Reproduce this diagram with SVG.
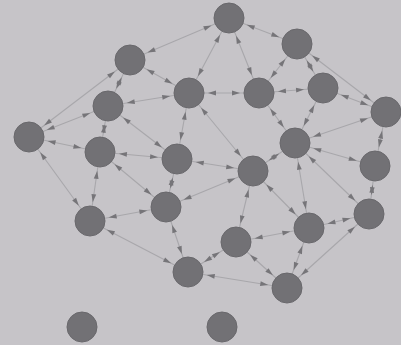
<svg xmlns="http://www.w3.org/2000/svg" width="401" height="345" viewBox="0 0 401 345">
<defs>
<style>
.bg{fill:#c6c4c8}
.e line{stroke:#a8a7ab;stroke-width:1.1;marker-start:url(#ah);marker-end:url(#ah)}
.n circle{fill:#727175;stroke:#69686c;stroke-width:1}
</style>
<marker id="ah" viewBox="-30 -5 30 10" refX="0" refY="0" markerWidth="30" markerHeight="10" markerUnits="userSpaceOnUse" orient="auto-start-reverse">
<path d="M-27,-2.4 L-19,0 L-27,2.4 z" fill="#767579"/>
</marker>
</defs>
<rect class="bg" x="0" y="0" width="401" height="345"/>
<g id="connectors" class="e">
<line x1="229" y1="18" x2="297" y2="44"/>
<line x1="229" y1="18" x2="130" y2="60"/>
<line x1="229" y1="18" x2="189" y2="93"/>
<line x1="229" y1="18" x2="259" y2="93"/>
<line x1="297" y1="44" x2="259" y2="93"/>
<line x1="297" y1="44" x2="323" y2="88"/>
<line x1="297" y1="44" x2="386" y2="112"/>
<line x1="130" y1="60" x2="108" y2="106"/>
<line x1="130" y1="60" x2="189" y2="93"/>
<line x1="130" y1="60" x2="29" y2="137"/>
<line x1="108" y1="106" x2="189" y2="93"/>
<line x1="108" y1="106" x2="29" y2="137"/>
<line x1="108" y1="106" x2="100" y2="152"/>
<line x1="108" y1="106" x2="177" y2="159"/>
<line x1="189" y1="93" x2="259" y2="93"/>
<line x1="189" y1="93" x2="177" y2="159"/>
<line x1="189" y1="93" x2="253" y2="171"/>
<line x1="259" y1="93" x2="323" y2="88"/>
<line x1="259" y1="93" x2="295" y2="143"/>
<line x1="323" y1="88" x2="295" y2="143"/>
<line x1="323" y1="88" x2="386" y2="112"/>
<line x1="386" y1="112" x2="295" y2="143"/>
<line x1="386" y1="112" x2="375" y2="166"/>
<line x1="29" y1="137" x2="100" y2="152"/>
<line x1="29" y1="137" x2="90" y2="221"/>
<line x1="100" y1="152" x2="177" y2="159"/>
<line x1="100" y1="152" x2="90" y2="221"/>
<line x1="100" y1="152" x2="166" y2="207"/>
<line x1="177" y1="159" x2="253" y2="171"/>
<line x1="177" y1="159" x2="166" y2="207"/>
<line x1="295" y1="143" x2="253" y2="171"/>
<line x1="295" y1="143" x2="375" y2="166"/>
<line x1="295" y1="143" x2="309" y2="228"/>
<line x1="295" y1="143" x2="369" y2="214"/>
<line x1="253" y1="171" x2="166" y2="207"/>
<line x1="253" y1="171" x2="309" y2="228"/>
<line x1="253" y1="171" x2="236" y2="242"/>
<line x1="375" y1="166" x2="369" y2="214"/>
<line x1="369" y1="214" x2="309" y2="228"/>
<line x1="369" y1="214" x2="287" y2="288"/>
<line x1="309" y1="228" x2="236" y2="242"/>
<line x1="309" y1="228" x2="287" y2="288"/>
<line x1="236" y1="242" x2="287" y2="288"/>
<line x1="236" y1="242" x2="188" y2="272"/>
<line x1="166" y1="207" x2="188" y2="272"/>
<line x1="166" y1="207" x2="90" y2="221"/>
<line x1="90" y1="221" x2="188" y2="272"/>
<line x1="188" y1="272" x2="287" y2="288"/>
</g>
<g id="n1" class="n"><circle cx="229" cy="18" r="15"/></g>
<g id="n2" class="n"><circle cx="297" cy="44" r="15"/></g>
<g id="n3" class="n"><circle cx="130" cy="60" r="15"/></g>
<g id="n4" class="n"><circle cx="108" cy="106" r="15"/></g>
<g id="n5" class="n"><circle cx="189" cy="93" r="15"/></g>
<g id="n6" class="n"><circle cx="259" cy="93" r="15"/></g>
<g id="n7" class="n"><circle cx="323" cy="88" r="15"/></g>
<g id="n8" class="n"><circle cx="386" cy="112" r="15"/></g>
<g id="n9" class="n"><circle cx="29" cy="137" r="15"/></g>
<g id="n10" class="n"><circle cx="100" cy="152" r="15"/></g>
<g id="n11" class="n"><circle cx="177" cy="159" r="15"/></g>
<g id="n12" class="n"><circle cx="295" cy="143" r="15"/></g>
<g id="n13" class="n"><circle cx="253" cy="171" r="15"/></g>
<g id="n14" class="n"><circle cx="375" cy="166" r="15"/></g>
<g id="n15" class="n"><circle cx="166" cy="207" r="15"/></g>
<g id="n16" class="n"><circle cx="90" cy="221" r="15"/></g>
<g id="n17" class="n"><circle cx="369" cy="214" r="15"/></g>
<g id="n18" class="n"><circle cx="309" cy="228" r="15"/></g>
<g id="n19" class="n"><circle cx="236" cy="242" r="15"/></g>
<g id="n20" class="n"><circle cx="188" cy="272" r="15"/></g>
<g id="n21" class="n"><circle cx="287" cy="288" r="15"/></g>
<g id="n22" class="n"><circle cx="82" cy="327" r="15"/></g>
<g id="n23" class="n"><circle cx="222" cy="327" r="15"/></g>
</svg>
